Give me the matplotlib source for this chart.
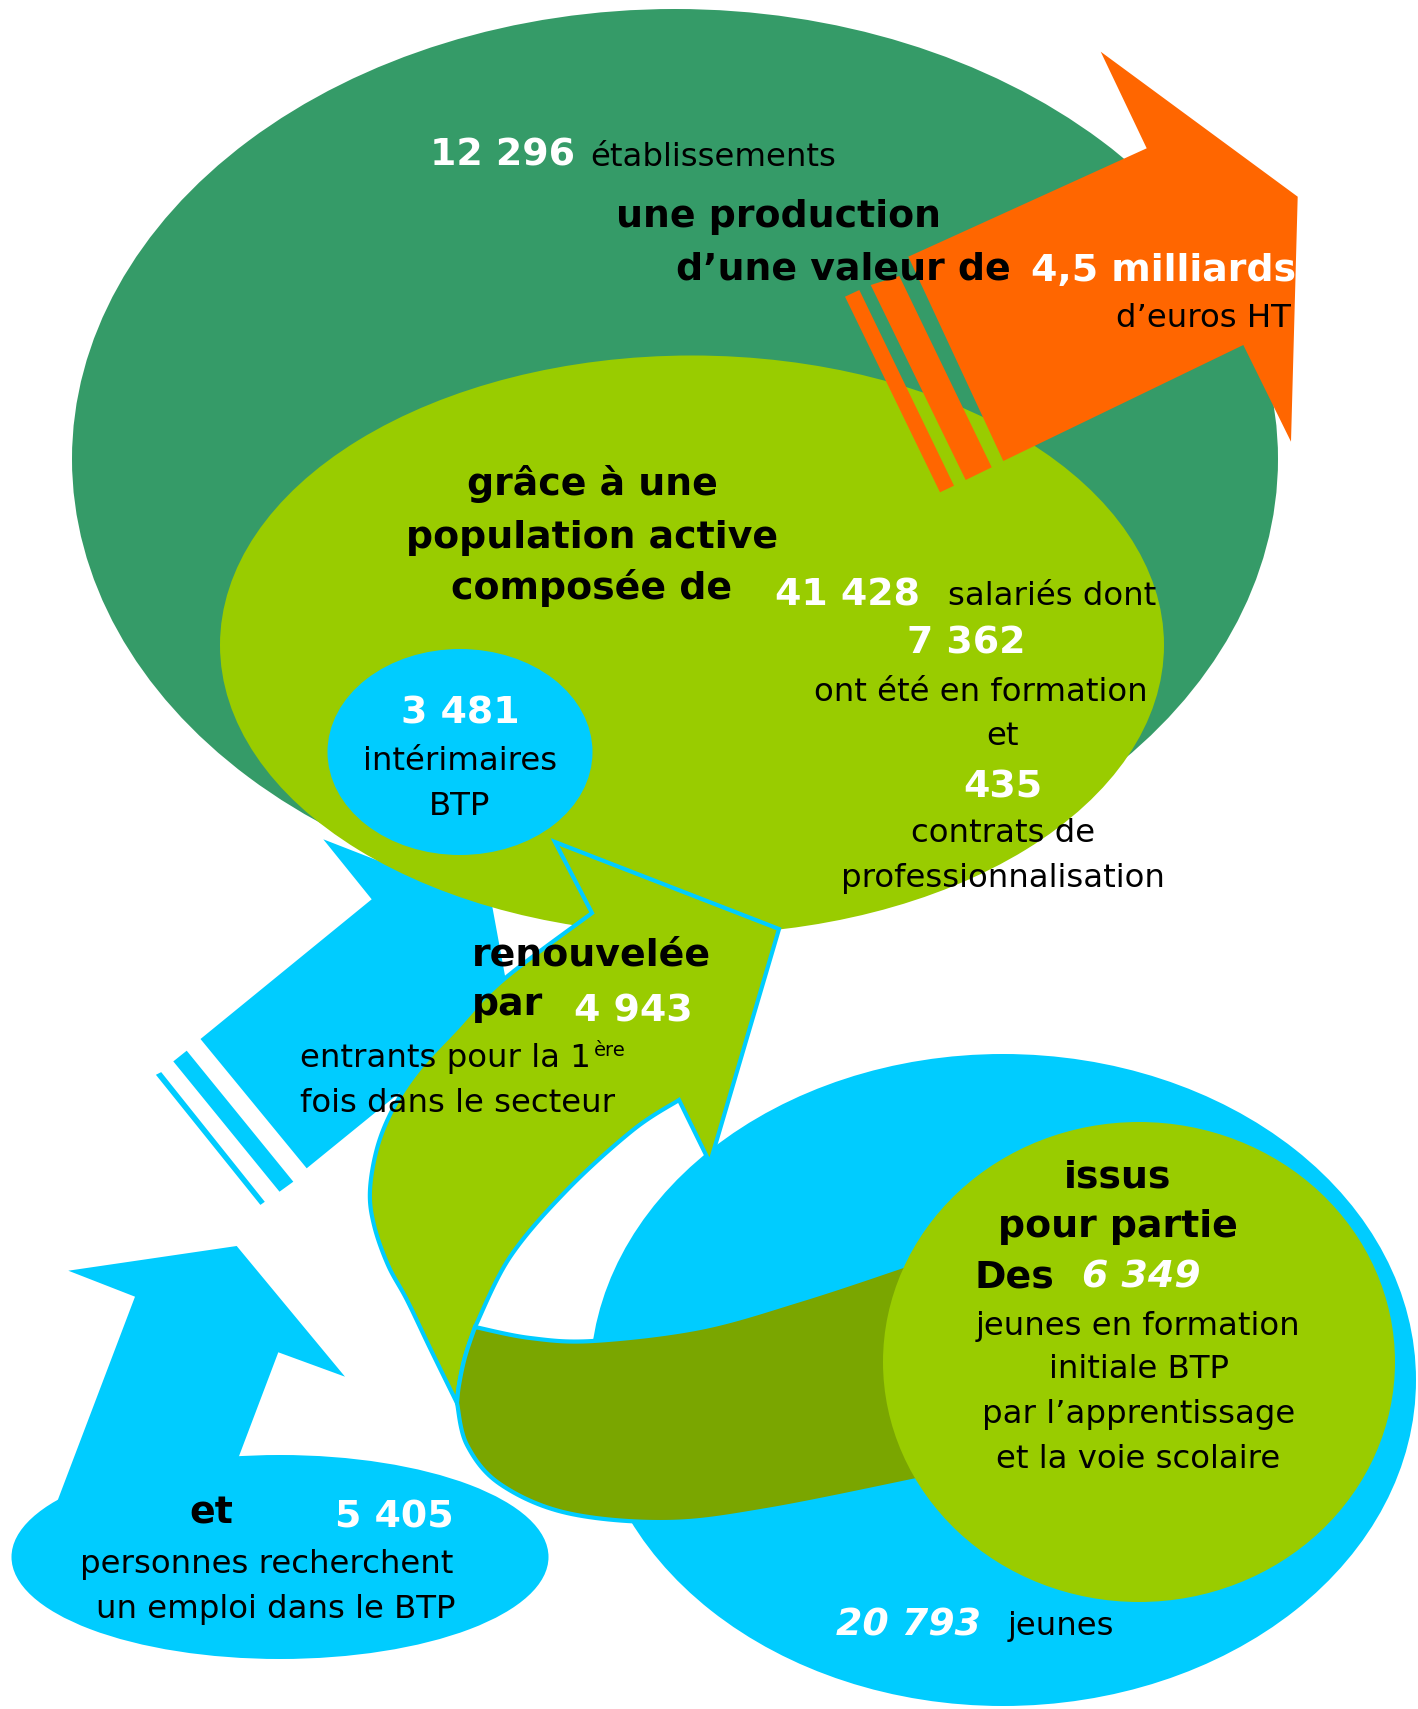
import numpy as np
import matplotlib
matplotlib.use("Agg")
import matplotlib.pyplot as plt
from matplotlib.patches import Ellipse, Polygon

# ---------------- data (values shown in the infographic) ----------------
top_values = ["12 296", "4,5 milliards"]
top_labels = ["établissements", "d’euros HT"]
production_lines = ["une production", "d’une valeur de"]
workforce_intro = ["grâce à une", "population active", "composée de"]
workforce_values = ["41 428", "7 362", "435"]
workforce_labels = ["salariés dont", "ont été en formation", "et", "contrats de", "professionnalisation"]
interim_value = "3 481"
interim_labels = ["intérimaires", "BTP"]
entrants_intro = ["renouvelée", "par"]
entrants_value = "4 943"
entrants_labels = ["entrants pour la 1", "ère", "fois dans le secteur"]
youth_intro = ["issus", "pour partie", "Des"]
youth_values = ["6 349", "20 793"]
youth_labels = ["jeunes en formation", "initiale BTP", "par l’apprentissage", "et la voie scolaire", "jeunes"]
jobseek_intro = "et"
jobseek_value = "5 405"
jobseek_labels = ["personnes recherchent", "un emploi dans le BTP"]

# ---------------- colours ----------------
DARK_GREEN = "#359B68"
LIGHT_GREEN = "#99CC00"
CYAN = "#00CCFF"
ORANGE = "#FF6600"
OLIVE = "#7AA600"

W, H = 1418, 1709
fig = plt.figure(figsize=(W / 100, H / 100), dpi=100)
ax = fig.add_axes([0, 0, 1, 1])
ax.set_xlim(0, W)
ax.set_ylim(H, 0)
ax.axis("off")


def catmull(pts, n=16):
    pts = np.asarray(pts, float)
    P = np.vstack([pts[0], pts, pts[-1]])
    out = []
    t = np.linspace(0, 1, n, endpoint=False)[:, None]
    for i in range(1, len(P) - 2):
        p0, p1, p2, p3 = P[i - 1], P[i], P[i + 1], P[i + 2]
        out.append(0.5 * ((2 * p1) + (-p0 + p2) * t + (2 * p0 - 5 * p1 + 4 * p2 - p3) * t ** 2
                          + (-p0 + 3 * p1 - 3 * p2 + p3) * t ** 3))
    out.append(P[-2][None])
    return np.vstack(out)


def poly(pts, fc, z, ec="none", lw=0):
    ax.add_patch(Polygon(np.asarray(pts), closed=True, facecolor=fc, edgecolor=ec,
                         linewidth=lw, zorder=z, joinstyle="miter"))


# big dark green ellipse
ax.add_patch(Ellipse((675, 459), 1206, 900, facecolor=DARK_GREEN, edgecolor="none", zorder=1))

# cyan arrow (upper left)
poly([(200.5, 1039), (371.7, 899.3), (323.3, 839.3), (492, 905), (526, 1090),
      (478, 1029), (306.7, 1168.3)], CYAN, 2)
poly([(173.3, 1061.4), (186.7, 1050.7), (293.3, 1181.7), (279.5, 1191.7)], CYAN, 2)
poly([(155.9, 1074.8), (161.2, 1072.1), (264.8, 1201.8), (260.4, 1204.9)], CYAN, 2)

# light green big ellipse
ax.add_patch(Ellipse((692, 645), 944, 579, facecolor=LIGHT_GREEN, edgecolor="none", zorder=3))

# orange arrow
poly([(908.3, 256.7), (1146.7, 148.3), (1100.7, 51.7), (1297.7, 196.7), (1291, 441.7),
      (1243.3, 345), (1003.3, 461)], ORANGE, 4)
poly([(870.7, 285), (899.3, 276), (991.7, 467.3), (965.7, 480)], ORANGE, 4)
poly([(845, 296.7), (859.3, 290), (954, 485.7), (940, 492.3)], ORANGE, 4)

# small cyan ellipse (interimaires)
ax.add_patch(Ellipse((460, 752), 265, 206, facecolor=CYAN, edgecolor="none", zorder=5))

# right big cyan ellipse (jeunes)
ax.add_patch(Ellipse((1003, 1380), 826, 652, facecolor=CYAN, edgecolor="none", zorder=5))

# bottom-left cyan ellipse + arrow
ax.add_patch(Ellipse((280, 1557), 537, 204, facecolor=CYAN, edgecolor="none", zorder=5))
poly([(68.3, 1270.7), (236.7, 1246), (345, 1376.7), (278.3, 1352.3), (233, 1472),
      (54, 1510), (135, 1296.7)], CYAN, 5)

# green ribbon arrow (light part)
head = np.array([(592, 913), (555, 842), (779, 929), (710, 1163), (679, 1100)])
inner = catmull([(679, 1100), (633, 1130), (567, 1190), (510, 1257), (475, 1327)])
oleft = catmull([(475, 1327), (465, 1357), (459, 1385), (457, 1403)])
outer = catmull([(457, 1403), (430, 1348), (407, 1300), (388, 1265), (374, 1225), (370, 1190),
                 (378, 1145), (395, 1105), (420, 1068), (455, 1030), (503, 980), (592, 913)])
ribbon = np.vstack([head, inner[1:], oleft[1:], outer[1:-1]])
poly(ribbon, LIGHT_GREEN, 6, ec=CYAN, lw=3)

# olive band (back of the ribbon)
top = catmull([(475, 1327), (530, 1338), (593, 1341), (700, 1328), (800, 1300), (903, 1266),
               (1000, 1232)])
bottom = catmull([(1000, 1462), (917, 1480), (767, 1510), (667, 1522), (567, 1513), (500, 1484),
                  (467, 1445), (457, 1403)])
lft = catmull([(457, 1403), (459, 1385), (465, 1357), (475, 1327)])
band = np.vstack([top, bottom, lft[1:-1]])
poly(band, OLIVE, 7, ec=CYAN, lw=3)

# light green ellipse (6 349)
ax.add_patch(Ellipse((1139, 1362), 512, 480, facecolor=LIGHT_GREEN, edgecolor="none", zorder=8))

# ---------------- text ----------------
B = 27.3
R = 23.3
FAM = "DejaVu Sans"


def t(x, y, s, size=R, weight="normal", color="black", ha="left", style="normal"):
    return ax.text(x, y, s, fontsize=size, fontweight=weight, color=color, ha=ha,
                   va="baseline", fontstyle=style, zorder=20, family=FAM)


t(430, 166, top_values[0], B, "bold", "white")
t(590, 166, top_labels[0])
t(616, 227, production_lines[0], B, "bold")
t(676, 280, production_lines[1], B, "bold")
t(1031, 281, top_values[1], B, "bold", "white")
t(1291, 327, top_labels[1], ha="right")

for y, s in zip([495, 548, 599], workforce_intro):
    t(592, y, s, B, "bold", ha="center")
t(775, 605, workforce_values[0], B, "bold", "white")
t(948, 605, workforce_labels[0])
t(966, 654, workforce_values[1], B, "bold", "white", ha="center")
t(981, 701, workforce_labels[1], ha="center")
t(1003, 745, workforce_labels[2], ha="center")
t(1003, 797, workforce_values[2], B, "bold", "white", ha="center")
t(1003, 842, workforce_labels[3], ha="center")
t(1003, 887, workforce_labels[4], ha="center")

t(460, 724, interim_value, B, "bold", "white", ha="center")
t(460, 770, interim_labels[0], ha="center")
t(460, 815, interim_labels[1], ha="center")

t(472, 965, entrants_intro[0], B, "bold")
t(472, 1015, entrants_intro[1], B, "bold")
t(574, 1021, entrants_value, B, "bold", "white")
e1 = t(300, 1067, entrants_labels[0])
fig.canvas.draw()
bb = e1.get_window_extent().transformed(ax.transData.inverted())
t(max(bb.x0, bb.x1) + 3, 1056, entrants_labels[1], 14)
t(300, 1112, entrants_labels[2])

t(1118, 1187, youth_intro[0], B, "bold", ha="center")
t(1118, 1237, youth_intro[1], B, "bold", ha="center")
t(975, 1288, youth_intro[2], B, "bold")
t(1082, 1288, youth_values[0], B, "bold", "white", style="italic")
for (x, y), s in zip([(1138, 1335), (1139, 1378), (1139, 1423), (1138, 1468)], youth_labels[:4]):
    t(x, y, s, ha="center")
t(836, 1635, youth_values[1], B, "bold", "white", style="italic")
t(1008, 1635, youth_labels[4])

t(189, 1523, jobseek_intro, B, "bold")
t(335, 1528, jobseek_value, B, "bold", "white")
t(453, 1573, jobseek_labels[0], ha="right")
t(455, 1618, jobseek_labels[1], ha="right")

fig.savefig("out.png", dpi=100)
